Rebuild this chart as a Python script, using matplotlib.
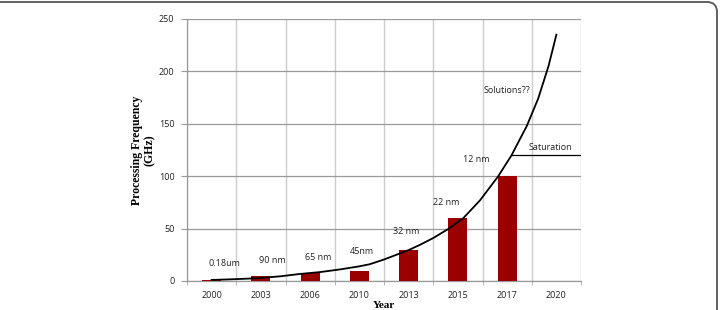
import numpy as np
import matplotlib
matplotlib.use("Agg")
import matplotlib.pyplot as plt
from matplotlib.patches import FancyBboxPatch

years = ["2000", "2003", "2006", "2010", "2013", "2015", "2017", "2020"]
freq = [0.5, 5, 7.5, 10, 30, 60, 100, 0]
nodes = ["0.18um", "90 nm", "65 nm", "45nm", "32 nm", "22 nm", "12 nm"]
node_x = [0.27, 1.23, 2.16, 3.04, 3.96, 4.77, 5.37]
node_y = [16.5, 19.5, 22.8, 28.6, 47.7, 75, 116]

# trend curve
trend_x = [0, 0.5, 0.91, 1.4, 1.79, 2.2, 2.6, 3.0, 3.21, 3.5, 3.75, 4.0,
           4.23, 4.5, 4.8, 5.11, 5.45, 5.82, 6.09, 6.4, 6.63, 6.84, 7.0]
trend_y = [1, 1.8, 2.6, 4.5, 6.7, 8.5, 11, 14, 16, 20.5, 25, 29.5,
           34.5, 41, 49.5, 60, 77, 100, 120, 148, 174, 205, 235]
saturation = 120

fig = plt.figure(figsize=(7.21, 3.10), dpi=100)
ax = fig.add_axes([187 / 721, 1 - 281 / 310, 394 / 721, 262 / 310])

x = np.arange(len(years))
ax.bar(x, freq, width=0.39, color="#9b0000", zorder=3)
ax.plot(trend_x, trend_y, color="black", lw=1.3, zorder=4,
        solid_joinstyle="round")
ax.plot([6.09, 7.5], [saturation, saturation], color="black", lw=0.9, zorder=4)

ax.set_xlim(-0.5, 7.5)
ax.set_ylim(0, 250)
ax.set_yticks(range(0, 251, 50))
ax.set_xticks(x)
ax.set_xticklabels(years)
ax.set_xticks(np.arange(-0.5, 7.6, 1), minor=True)
ax.tick_params(axis="x", which="major", length=0, pad=7)
ax.tick_params(axis="x", which="minor", length=3, color="#aaaaaa")
ax.tick_params(axis="y", length=4, color="#999999", pad=5)
for lab in ax.get_xticklabels() + ax.get_yticklabels():
    lab.set_fontfamily("Open Sans")
    lab.set_fontsize(6.5)
    lab.set_color("#222222")

ax.grid(axis="y", which="major", color="#9a9a9a", lw=0.9, zorder=0)
ax.grid(axis="x", which="minor", color="#cccccc", lw=1.0, zorder=0)
for s in ["top", "right"]:
    ax.spines[s].set_visible(False)
for s in ["left", "bottom"]:
    ax.spines[s].set_color("#999999")
    ax.spines[s].set_linewidth(0.9)

for t, tx, ty in zip(nodes, node_x, node_y):
    ax.text(tx, ty, t, fontsize=6.5, family="Open Sans", color="#222222",
            ha="center", va="center")
ax.text(6.0, 181.5, "Solutions??", fontsize=6.5, family="Open Sans",
        color="#222222", ha="center", va="center")
ax.text(6.87, 127, "Saturation", fontsize=6.5, family="Open Sans",
        color="#222222", ha="center", va="center")

ax.set_ylabel("Processing Frequency\n(GHz)", family="Liberation Serif",
              fontweight="bold", fontsize=8.5, labelpad=2, linespacing=1.1)
ax.set_xlabel("Year", family="Liberation Serif", fontweight="bold",
              fontsize=8, labelpad=1)

frame = FancyBboxPatch((-20, -20), 737, 328,
                       boxstyle="round,pad=0,rounding_size=10",
                       transform=None, fill=False, edgecolor="#555555",
                       lw=1.3, clip_on=False)
fig.patches.append(frame)

fig.savefig("out.png", dpi=100)
